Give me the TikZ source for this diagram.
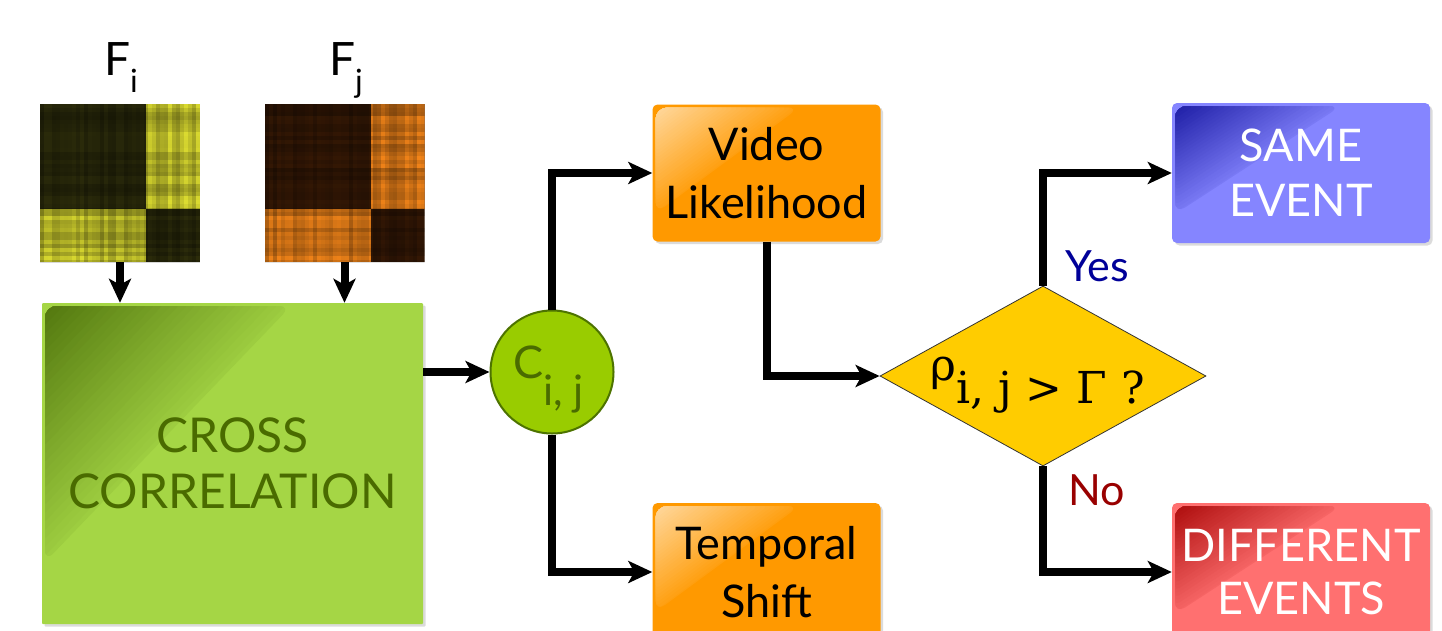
\documentclass[tikz,border=0pt]{standalone}
\usepackage{fontspec}
\setmainfont{Lato}
\newfontfamily\dvserif{DejaVu Serif}
\usetikzlibrary{arrows.meta,shapes.geometric,shadows,calc}

\definecolor{crossgreen}{HTML}{A5D645}
\definecolor{crossdark}{HTML}{557A10}
\definecolor{crosstext}{HTML}{4A6B00}
\definecolor{nodegreen}{HTML}{99CC00}
\definecolor{nodeedge}{HTML}{4D7300}
\definecolor{boxorange}{HTML}{FF9900}
\definecolor{decyellow}{HTML}{FFCC00}
\definecolor{sameblue}{HTML}{8585FF}
\definecolor{samedark}{HTML}{2121A8}
\definecolor{diffred}{HTML}{FF7070}
\definecolor{diffdark}{HTML}{B01010}
\definecolor{yesblue}{HTML}{000099}
\definecolor{nored}{HTML}{990000}
\definecolor{matdarkA}{HTML}{2E2E0C}
\definecolor{matbrightA}{HTML}{E2E232}
\definecolor{matdarkB}{HTML}{361906}
\definecolor{matbrightB}{HTML}{F4861A}

% plaid similarity matrix drawn inside a node's path picture
\newcommand\plaidfill[2]{%
  \coordinate (pw) at (path picture bounding box.north west);
  \fill[#1] (pw) rectangle ++(160,158);
  \fill[#2] ($(pw)+(106,0)$) rectangle ++(54,105);
  \fill[#2] ($(pw)+(0,105)$) rectangle ++(106,53);
  \foreach \k in {0,...,39}{%
    \pgfmathsetmacro\op{0.28*rnd}
    \fill[black,fill opacity=\op] ($(pw)+(4*\k,0)$) rectangle ++(4,158);
    \pgfmathsetmacro\op{0.28*rnd}
    \fill[black,fill opacity=\op] ($(pw)+(0,4*\k)$) rectangle ++(160,4);
  }%
}

% glossy highlight in the upper left corner of a box:
% corner colour, edge colour, length along the top, length down the side
\newcommand\glossbands[4]{%
  \coordinate (gc) at ($(path picture bounding box.north west)+(3,3)$);
  \begin{scope}
    \clip[rounded corners=12pt] (gc) -- ++(#3,0) -- ($(gc)+(0,#4)$) -- cycle;
    \foreach \s in {30,29,...,1}{%
      \pgfmathtruncatemacro\mixv{100*(\s-1)/29}
      \fill[#2!\mixv!#1] (gc) -- ++({#3*\s/30+2},0) -- ($(gc)+(0,{#4*\s/30+2})$) -- cycle;
    }
  \end{scope}%
}

\begin{document}
\pgfmathsetseed{7}
\begin{tikzpicture}[x=1pt,y=-1pt,
  conn/.style={line width=8pt, line join=miter,
    -{Stealth[length=24pt,width=22pt,inset=6pt]}},
  shadowed/.style={drop shadow={opacity=0.28,shadow xshift=2.5pt,shadow yshift=-2.5pt}},
  gloss/.style n args={4}{path picture={\glossbands{#1}{#2}{#3}{#4}}},
  panel/.style={rounded corners=5pt, inner sep=0pt, shadowed,
    font=\fontsize{45}{58}\selectfont, align=center},
  matrixbox/.style={minimum width=160pt, minimum height=158pt, inner sep=0pt},
  flabel/.style={inner sep=0pt, font=\fontsize{46}{46}\selectfont},
  answer/.style={inner sep=0pt, font=\fontsize{43}{43}\selectfont}
]
\useasboundingbox (0,0) rectangle (1442,630);
\clip (0,0) rectangle (1442,630);
\fill[white] (0,0) rectangle (1442,630);

% input matrices and their labels
\node[matrixbox, path picture={\plaidfill{matdarkA}{matbrightA}}] (mi) at (120,183) {};
\node[matrixbox, path picture={\plaidfill{matdarkB}{matbrightB}}] (mj) at (344.5,183) {};
\node[flabel, anchor=base west] (fi) at (104,75) {F\raisebox{-17pt}{\fontsize{32}{32}\selectfont i}};
\node[flabel, anchor=base west] (fj) at (329,75) {F\raisebox{-17pt}{\fontsize{32}{32}\selectfont j}};

% cross correlation block
\node[panel, rounded corners=1pt, fill=crossgreen, minimum width=381pt, minimum height=321pt,
  gloss={crossdark}{crossgreen!90!crossdark}{246}{256},
  text=crosstext, font=\fontsize{48}{56}\selectfont] (cross) at (232.5,463.5) {CROSS\\CORRELATION};

% correlation node
\node[circle, fill=nodegreen, draw=nodeedge, line width=2pt, minimum size=123pt, inner sep=0pt] (cij) at (552,372) {};
\node[anchor=base west, inner sep=0pt, text=crosstext, font=\fontsize{45}{45}\selectfont] (cijtext) at (513,378)
  {C\raisebox{-27pt}{\fontsize{42}{42}\selectfont i, j}};

% result boxes
\node[panel, fill=boxorange, minimum width=228pt, minimum height=137pt,
  gloss={white!60!boxorange}{white!10!boxorange}{144}{106}] (video) at (766.5,173) {Video\\Likelihood};
\node[panel, fill=boxorange, minimum width=228pt, minimum height=138pt,
  gloss={white!60!boxorange}{white!10!boxorange}{144}{106}] (shift) at (766.5,572) {Temporal\\Shift};

% decision
\node[diamond, fill=decyellow, draw=black!80, line width=0.8pt, minimum width=326pt, minimum height=180pt,
  inner sep=0pt] (dec) at (1043,376) {};
\node[anchor=base west, inner sep=0pt, font=\dvserif\fontsize{44}{44}\selectfont] (dectext) at (930,380)
  {ρ\raisebox{-23pt}{i, j > Γ ?}};

% outcome boxes
\node[panel, fill=sameblue, text=white, minimum width=258pt, minimum height=140pt,
  font=\fontsize{45}{55}\selectfont,
  gloss={samedark}{sameblue!88!samedark}{166}{108}] (same) at (1301,173) {SAME\\EVENT};
\node[panel, fill=diffred, text=white, minimum width=258pt, minimum height=138pt,
  font=\fontsize{45}{53}\selectfont,
  gloss={diffdark}{diffred!88!diffdark}{166}{108}] (diff) at (1301,572) {DIFFERENT\\EVENTS};

% branch labels
\node[answer, text=yesblue] (yes) at (1097,266) {Yes};
\node[answer, text=nored] (no) at (1097,490) {No};

% connectors
\draw[conn] (mi.south) -- (mi.south |- cross.north);
\draw[conn] (mj.south) -- (mj.south |- cross.north);
\draw[conn] (cross.east |- cij.west) -- (cij.west);
\draw[conn] (cij.north) |- (video.west);
\draw[conn] (cij.south) |- (shift.west);
\draw[conn] (video.south) |- (dec.west);
\draw[conn] (dec.north) |- (same.west);
\draw[conn] (dec.south) |- (diff.west);
\end{tikzpicture}
\end{document}
